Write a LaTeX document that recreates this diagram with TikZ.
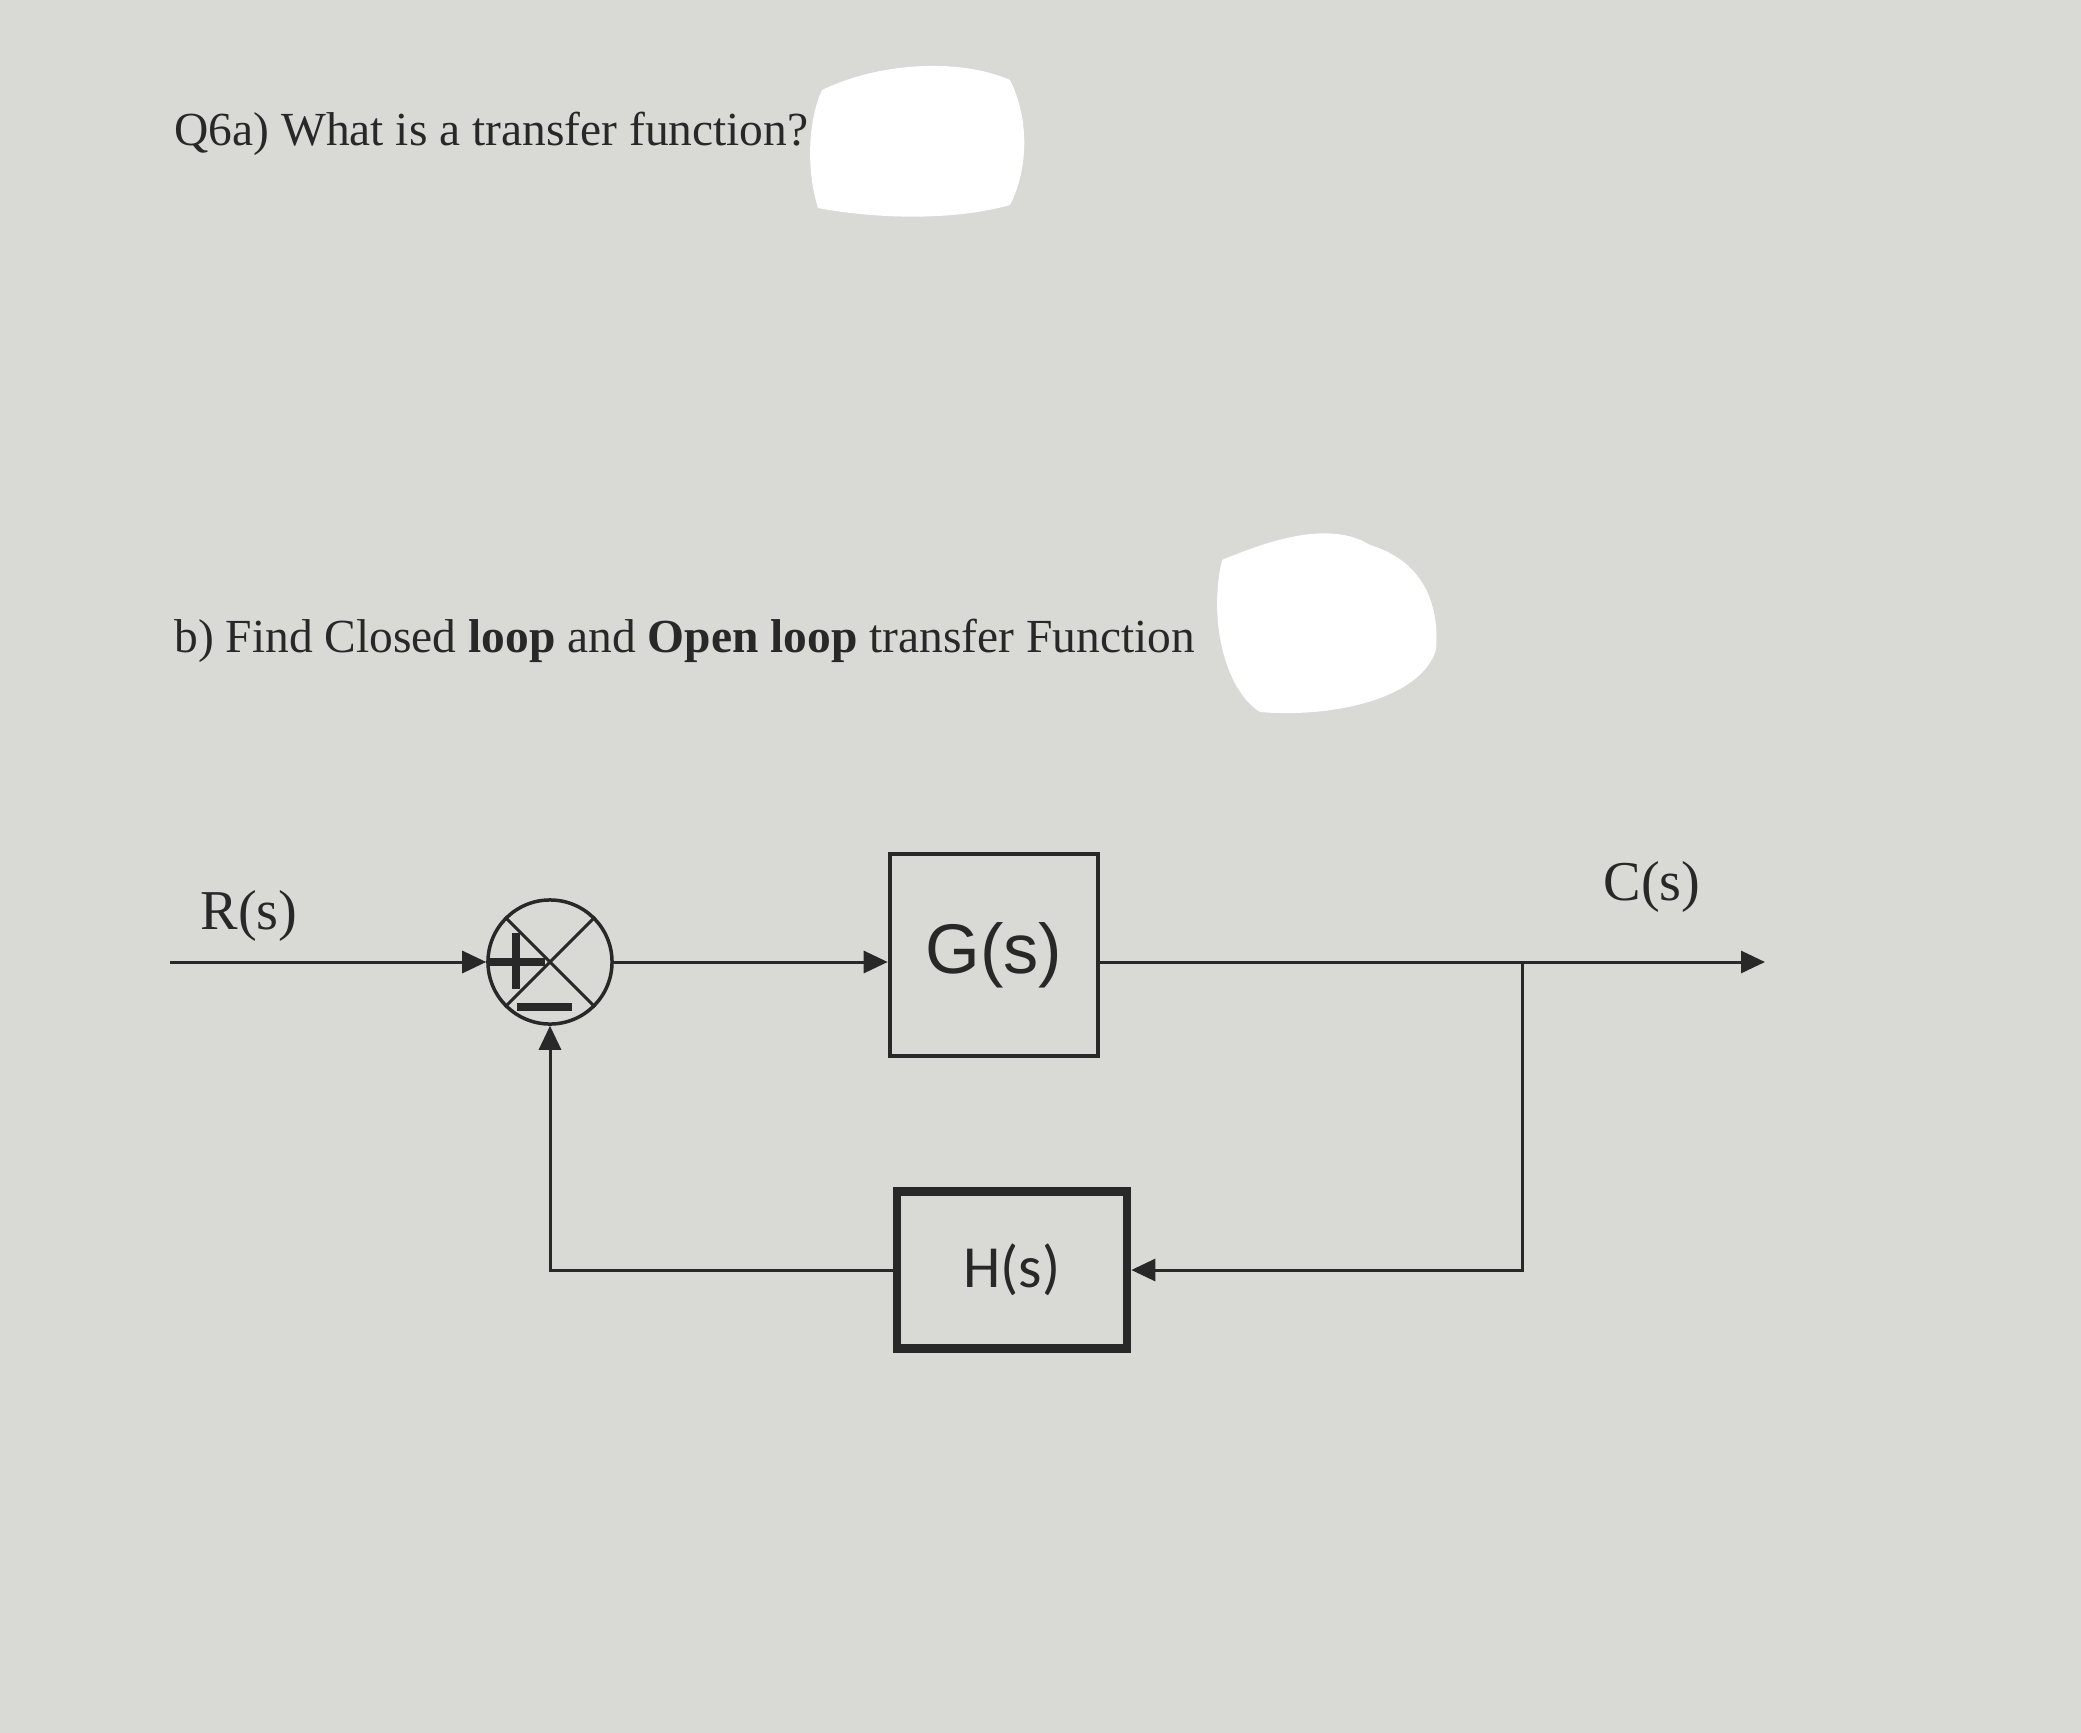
\documentclass[tikz,border=0pt]{standalone}
\usepackage{fontspec}
\setmainfont{Liberation Serif}
\newfontfamily\gsfont{Liberation Sans}
\newfontfamily\hsfont{Carlito}
\usepackage{xcolor}
\usetikzlibrary{arrows.meta,positioning,calc}
\definecolor{paper}{RGB}{217,218,214}
\definecolor{ink}{RGB}{40,40,40}
\tikzset{
  block/.style={rectangle, draw=ink, line width=0.045cm, minimum width=2.08cm,
    minimum height=2.02cm, inner sep=0pt, text=ink},
  sigarrow/.style={-{Triangle[length=0.24cm,width=0.22cm]}, draw=ink, line width=0.03cm},
  sigline/.style={draw=ink, line width=0.03cm},
}

\begin{document}
\begin{tikzpicture}[
    x=0.01cm, y=-0.01cm,
    sumjunction/.style={circle, draw=ink, line width=0.035cm, minimum size=1.24cm,
      inner sep=0pt},
    fbblock/.style={block, line width=0.085cm, minimum width=2.3cm, minimum height=1.57cm},
    signbar/.style={draw=ink, line width=0.08cm},
    siglabel/.style={anchor=base, text=ink, font=\fontsize{16}{19}\selectfont},
    question/.style={anchor=base west, text=ink, font=\fontsize{13.5}{16}\selectfont},
    blot/.style={fill=white, draw=none}
  ]

  % ============ Page ============
  \useasboundingbox[fill=paper] (0,0) rectangle (2081,1733);

  % ============ Question text ============
  \node[question] (qa) at (162,145) {Q6a) What is a transfer function?};
  \node[question] (qb) at (162,652)
    {b) Find Closed \textbf{loop} and \textbf{Open loop} transfer Function};

  % white patches over the page
  \fill[blot] (822,90) .. controls (880,62) and (960,58) .. (1010,80)
    .. controls (1030,120) and (1028,170) .. (1010,205)
    .. controls (950,222) and (870,218) .. (818,208)
    .. controls (806,170) and (808,120) .. (822,90) -- cycle;
  \fill[blot] (1222,560) .. controls (1270,540) and (1330,520) .. (1370,545)
    .. controls (1420,560) and (1440,600) .. (1436,650)
    .. controls (1420,700) and (1330,718) .. (1260,712)
    .. controls (1225,690) and (1208,620) .. (1222,560) -- cycle;

  % ============ Forward path ============
  \coordinate (in) at (170,962);
  \node[sumjunction] (sum) at (550,962) {};
  \node[block] (gblk) at (994,955) {\gsfont\fontsize{20}{24}\selectfont G(s)};
  \coordinate (branch) at (1522,962);
  \coordinate (out) at (1765,962);

  \node[siglabel] (rlab) at (249,929) {R(s)};
  \node[siglabel] (clab) at (1652,900) {C(s)};

  % summing junction marks
  \draw[sigline] (sum.45) -- (sum.225);
  \draw[sigline] (sum.135) -- (sum.315);
  \draw[signbar] ($(sum)+(-62,0)$) -- ($(sum)+(-5,0)$);
  \draw[signbar] ($(sum)+(-34,-29)$) -- ($(sum)+(-34,27)$);
  \draw[signbar] ($(sum)+(-33,45)$) -- ($(sum)+(22,45)$);

  \draw[sigarrow] (in) -- (sum.west);
  \draw[sigarrow] (sum.east) -- (gblk.west |- sum.east);
  \draw[sigarrow] (gblk.east |- branch) -- (out);

  % ============ Feedback path ============
  \node[fbblock] (hblk) at (1012,1270) {\hsfont\fontsize{17}{20}\selectfont H(s)};

  \draw[sigarrow] (branch) |- (hblk.east);
  \draw[sigarrow] (hblk.west) -| (sum.south);

\end{tikzpicture}
\end{document}
